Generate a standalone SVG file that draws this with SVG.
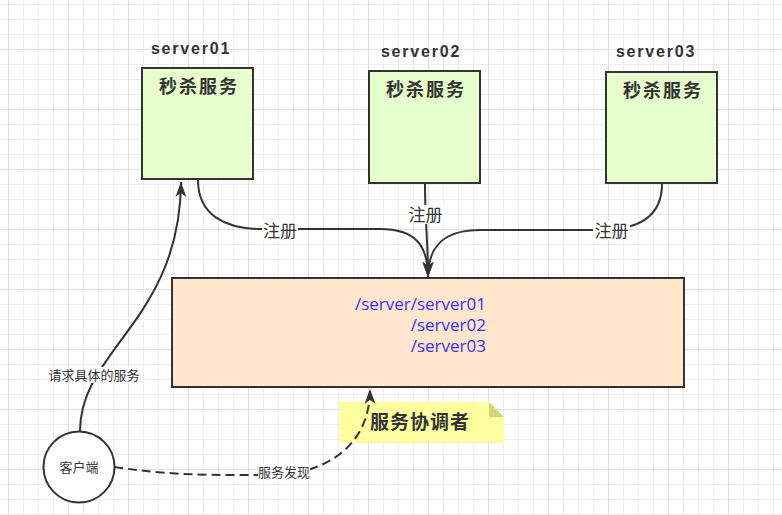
<svg xmlns="http://www.w3.org/2000/svg" width="782" height="515" viewBox="0 0 782 515">
<style>
.box{fill:#e6ffcc;stroke:#333;stroke-width:2}
.title{font-family:"Liberation Sans",Arial,sans-serif;font-weight:bold;font-size:16px;letter-spacing:1.8px;fill:#333;text-anchor:middle}
.svc{font-family:"Noto Sans CJK SC",sans-serif;font-weight:bold;font-size:18px;letter-spacing:2px;fill:#333;text-anchor:middle}
.edge{fill:none;stroke:#333;stroke-width:2}
.dash{stroke-dasharray:9 5}
.lbl{font-family:"Noto Sans CJK SC",sans-serif;fill:#333;text-anchor:middle}
.lbg{fill:#fff}
.path{font-family:"Open Sans",sans-serif;font-size:17px;fill:#3333ff;text-anchor:end}
</style>
<defs>
<pattern id="grid" patternUnits="userSpaceOnUse" x="8" y="4" width="60" height="60">
<rect x="15" y="0" width="1" height="60" fill="#ededed"/>
<rect x="30" y="0" width="1" height="60" fill="#ededed"/>
<rect x="45" y="0" width="1" height="60" fill="#ededed"/>
<rect x="0" y="0" width="60" height="1" fill="#ededed"/>
<rect x="0" y="15" width="60" height="1" fill="#ededed"/>
<rect x="0" y="30" width="60" height="1" fill="#ededed"/>
<rect x="0" y="45" width="60" height="1" fill="#e0e0e0"/>
<rect x="0" y="0" width="1" height="60" fill="#e0e0e0"/>
</pattern>
<marker id="arr" markerUnits="userSpaceOnUse" markerWidth="16" markerHeight="12" viewBox="0 0 16 12" refX="15" refY="6" orient="auto">
<path d="M0,0.5 L15,6 L0,11.5 L4,6 Z" fill="#333" stroke="none"/>
</marker>
</defs>
<rect width="782" height="515" fill="#fff"/>
<rect width="782" height="515" fill="url(#grid)"/>

<g id="server01">
<text class="title" x="191" y="54">server01</text>
<rect class="box" x="142" y="68" width="111" height="111"/>
<text class="svc" x="199" y="93">秒杀服务</text>
</g>
<g id="server02">
<text class="title" x="421" y="57">server02</text>
<rect class="box" x="369" y="71" width="111" height="112"/>
<text class="svc" x="426" y="96">秒杀服务</text>
</g>
<g id="server03">
<text class="title" x="656" y="57">server03</text>
<rect class="box" x="606" y="72" width="111" height="111"/>
<text class="svc" x="663" y="97">秒杀服务</text>
</g>

<g id="coordinator">
<rect x="172" y="278" width="512" height="109" fill="#ffe6cc" stroke="#333" stroke-width="2"/>
<text class="path" x="486" y="310">/server/server01</text>
<text class="path" x="486" y="331">/server02</text>
<text class="path" x="486" y="352">/server03</text>
</g>

<g id="note">
<polygon points="339,402 489,402 504,417 504,443 339,443" fill="#ffffa0"/>
<polygon points="489,402 489,417 504,417" fill="#d3d37c"/>
<text x="370" y="429" font-family="'Noto Sans CJK SC',sans-serif" font-weight="bold" font-size="19" letter-spacing="1" fill="#333">服务协调者</text>
</g>

<g id="client">
<circle cx="79" cy="467" r="35.5" fill="#fff" stroke="#333" stroke-width="2"/>
<text class="lbl" x="79" y="471.5" font-size="13">客户端</text>
</g>

<g id="connectors">
<path class="edge" d="M198,180 C198,215 225,229 262,229 L380,229 C415,229 428,245 428,277" marker-end="url(#arr)"/>
<path class="edge" d="M425,183 C425,225 428,240 428,277" marker-end="url(#arr)"/>
<path class="edge" d="M662,184 C662,215 640,230 600,230 L480,230 C445,230 428,245 428,277" marker-end="url(#arr)"/>
<path class="edge" d="M80,431 C80,350 180,320 181,182" marker-end="url(#arr)"/>
<path class="edge dash" d="M114,467 C150,472 180,475 230,475 L270,475 C320,475 370,450 370,389" marker-end="url(#arr)"/>

<rect class="lbg" x="262" y="221" width="36" height="19"/>
<text class="lbl" x="280" y="236.5" font-size="17">注册</text>
<rect class="lbg" x="407" y="205" width="37" height="19"/>
<text class="lbl" x="425.5" y="220.5" font-size="17">注册</text>
<rect class="lbg" x="593" y="221" width="37" height="19"/>
<text class="lbl" x="611.5" y="236.5" font-size="17">注册</text>
<rect class="lbg" x="47" y="367" width="94" height="16"/>
<text class="lbl" x="94" y="380" font-size="13">请求具体的服务</text>
<rect class="lbg" x="258" y="464" width="52" height="16"/>
<text class="lbl" x="284" y="477" font-size="13">服务发现</text>
</g>
</svg>
